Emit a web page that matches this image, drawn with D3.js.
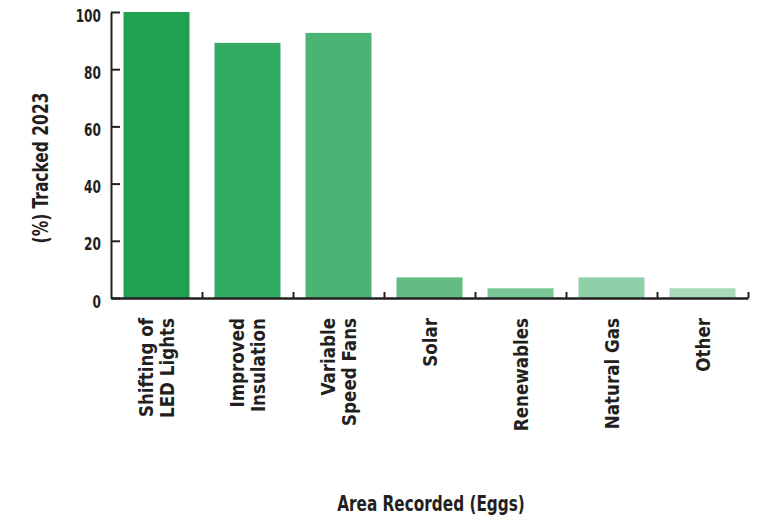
<!DOCTYPE html>
<html>
<head>
<meta charset="utf-8">
<script src="https://cdn.jsdelivr.net/npm/d3@7"></script>
<style>
  body { margin: 0; background: #fff; }
  text { font-family: "DejaVu Sans Condensed", "DejaVu Sans", sans-serif; font-weight: bold; fill: #231f20; }
</style>
</head>
<body>
<svg id="chart" width="760" height="520"></svg>
<script>
// categories (multi-line labels) and values
const categories = ["Shifting of|LED Lights", "Improved|Insulation", "Variable|Speed Fans", "Solar", "Renewables", "Natural Gas", "Other"];
const values = [100, 89.2, 92.7, 7.2, 3.4, 7.2, 3.4];
const colors = ["#20a14f", "#33aa62", "#4bb474", "#62bc84", "#78c694", "#8fcfa8", "#a7dabb"];
const yTicks = [0, 20, 40, 60, 80, 100];

const margin = {top: 12, right: 12, bottom: 222, left: 111};
const width = 760, height = 520;
const innerW = width - margin.left - margin.right;
const innerH = height - margin.top - margin.bottom;

const svg = d3.select("#chart");
const chart = svg.append("g").attr("transform", `translate(${margin.left},${margin.top})`);

const x = d3.scaleBand().domain(categories).range([0, innerW])
    .paddingInner(0.275).paddingOuter(0.1375);
const y = d3.scaleLinear().domain([0, 100]).range([innerH, 0]);

// bars
chart.selectAll("rect.bar")
  .data(values)
  .join("rect")
  .attr("class", "bar")
  .attr("x", (d, i) => x(categories[i]))
  .attr("y", d => y(d))
  .attr("width", x.bandwidth())
  .attr("height", d => innerH - y(d))
  .attr("fill", (d, i) => colors[i]);

// y axis, ticks pointing inward
const yAxis = chart.append("g")
  .call(d3.axisLeft(y).tickValues(yTicks).tickSize(-9).tickSizeOuter(0));
yAxis.select(".domain").attr("stroke", "#231f20").attr("stroke-width", 2);
yAxis.selectAll(".tick line").attr("stroke", "#231f20").attr("stroke-width", 2);
yAxis.selectAll(".tick text")
  .attr("x", 0)
  .attr("dy", "0.5em")
  .attr("transform", "translate(-10,0) scale(0.75,1)")
  .attr("font-size", 18)
  .attr("fill", "#231f20");

// x axis: boundary ticks pointing up
const xb = d3.scaleLinear().domain([0, categories.length]).range([0, innerW]);
const xAxis = chart.append("g")
  .attr("transform", `translate(0,${innerH})`)
  .call(d3.axisBottom(xb).tickValues(d3.range(1, categories.length + 1)).tickSize(-6).tickSizeOuter(0).tickFormat(""));
xAxis.select(".domain").attr("stroke", "#231f20").attr("stroke-width", 2.5);
xAxis.selectAll(".tick line").attr("stroke", "#231f20").attr("stroke-width", 2);

// category labels, rotated
const labels = chart.append("g")
  .selectAll("text")
  .data(categories)
  .join("text")
  .attr("transform", d => `translate(${x(d) + x.bandwidth() / 2},${innerH + 20}) rotate(-90) scale(0.93,1)`)
  .attr("text-anchor", "end")
  .attr("font-size", 20);
labels.each(function(d) {
  const lines = d.split("|");
  const lh = 21;
  const start = -(lines.length - 1) * lh / 2;
  d3.select(this).selectAll("tspan")
    .data(lines)
    .join("tspan")
    .attr("x", 0)
    .attr("y", (l, i) => start + i * lh + 7)
    .text(l => l);
});

// axis titles
svg.append("text")
  .attr("transform", `translate(48,168) rotate(-90) scale(0.82,1)`)
  .attr("text-anchor", "middle")
  .attr("font-size", 21)
  .text("(%) Tracked 2023");

svg.append("text")
  .attr("transform", `translate(431,511) scale(0.81,1)`)
  .attr("text-anchor", "middle")
  .attr("font-size", 21)
  .text("Area Recorded (Eggs)");
</script>
</body>
</html>
